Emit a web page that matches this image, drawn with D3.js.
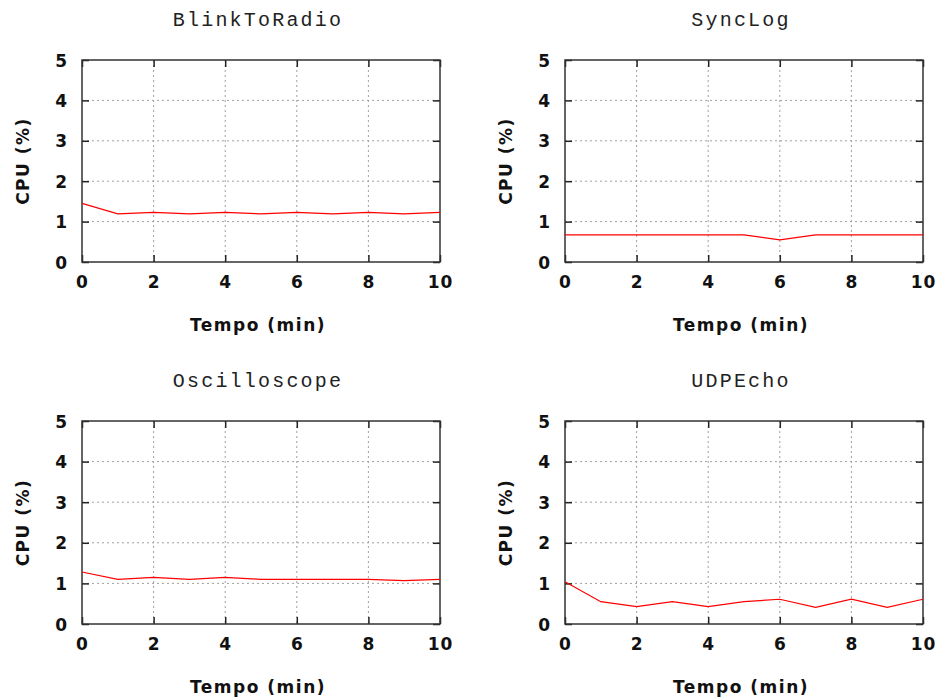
<!DOCTYPE html>
<html><head><meta charset="utf-8">
<script src="https://cdn.jsdelivr.net/npm/d3@7"></script>
<style>body{margin:0;background:#fff}</style>
</head><body>
<svg id="c" width="939" height="699"></svg>
<script>
const minutes = [0,1,2,3,4,5,6,7,8,9,10];
const titles = ["BlinkToRadio","SyncLog","Oscilloscope","UDPEcho"];
const blinkToRadio = [1.45,1.19,1.23,1.19,1.23,1.19,1.23,1.19,1.23,1.19,1.23];
const syncLog      = [0.67,0.67,0.67,0.67,0.67,0.67,0.55,0.67,0.67,0.67,0.67];
const oscilloscope = [1.28,1.10,1.15,1.10,1.15,1.10,1.10,1.10,1.10,1.07,1.10];
const udpEcho      = [1.04,0.55,0.43,0.55,0.43,0.55,0.61,0.41,0.61,0.41,0.61];
const xTicks = [0,2,4,6,8,10];
const yTicks = [0,1,2,3,4,5];
const xLabel = "Tempo (min)";
const yLabel = "CPU (%)";

const series = [blinkToRadio, syncLog, oscilloscope, udpEcho];
const panels = [
  {l:82, r:440, t:60, b:262},
  {l:565, r:923, t:60, b:262},
  {l:82, r:440, t:421, b:624},
  {l:565, r:923, t:421, b:624}
];
const svg = d3.select("#c");
const labFont = "'DejaVu Sans', sans-serif";

panels.forEach((p, i) => {
  const x = d3.scaleLinear().domain([0,10]).range([p.l, p.r]);
  const y = d3.scaleLinear().domain([0,5]).range([p.b, p.t]);
  const g = svg.append("g");

  // grid
  g.selectAll(".gx").data(xTicks.slice(1,-1)).join("line")
    .attr("x1", d=>x(d)).attr("x2", d=>x(d)).attr("y1", p.t).attr("y2", p.b)
    .attr("stroke","#a0a0a0").attr("stroke-width",1).attr("stroke-dasharray","2,3");
  g.selectAll(".gy").data(yTicks.slice(1,-1)).join("line")
    .attr("y1", d=>y(d)).attr("y2", d=>y(d)).attr("x1", p.l).attr("x2", p.r)
    .attr("stroke","#a0a0a0").attr("stroke-width",1).attr("stroke-dasharray","2,3");

  // axes with inward ticks
  const axB = g.append("g").attr("transform",`translate(0,${p.b})`)
    .call(d3.axisBottom(x).tickValues(xTicks).tickSize(-7).tickPadding(14).tickFormat(d3.format("d")));
  const axT = g.append("g").attr("transform",`translate(0,${p.t})`)
    .call(d3.axisTop(x).tickValues(xTicks).tickSize(-7).tickFormat(""));
  const axL = g.append("g").attr("transform",`translate(${p.l},0)`)
    .call(d3.axisLeft(y).tickValues(yTicks).tickSize(-7).tickPadding(15).tickFormat(d3.format("d")));
  const axR = g.append("g").attr("transform",`translate(${p.r},0)`)
    .call(d3.axisRight(y).tickValues(yTicks).tickSize(-7).tickFormat(""));
  [axB,axT,axL,axR].forEach(a => {
    a.select(".domain").remove();
    a.selectAll(".tick line").attr("stroke","#222").attr("stroke-width",1.5);
    a.selectAll("text").attr("font-family",labFont).attr("font-weight","bold")
      .attr("font-size","17px").attr("fill","#111");
  });
  axB.selectAll("text").attr("dy","0.71em").attr("letter-spacing","1px");
  axL.selectAll("text").attr("dy","0.36em");

  // frame
  g.append("rect").attr("x",p.l).attr("y",p.t).attr("width",p.r-p.l).attr("height",p.b-p.t)
    .attr("fill","none").attr("stroke","#333").attr("stroke-width",1.5);

  // data line
  const line = d3.line().x((d,j)=>x(minutes[j])).y(d=>y(d));
  g.append("path").datum(series[i]).attr("d", line)
    .attr("fill","none").attr("stroke","#ff0000").attr("stroke-width",1.2);

  const cx = (p.l+p.r)/2 - 3;
  // title
  g.append("text").attr("x", cx).attr("y", p.t-34).attr("text-anchor","middle")
    .attr("font-family","'Courier New','Liberation Mono',monospace").attr("font-size","20px")
    .attr("letter-spacing","2.2px").attr("fill","#222").text(titles[i]);
  // x label
  g.append("text").attr("x", cx).attr("y", p.b+69).attr("text-anchor","middle")
    .attr("font-family",labFont).attr("font-weight","bold").attr("font-size","17px")
    .attr("letter-spacing","1.5px").attr("fill","#111").text(xLabel);
  // y label
  const ly = (p.t+p.b)/2;
  const lx = p.l - 59;
  g.append("text").attr("transform",`translate(${lx},${ly}) rotate(-90)`)
    .attr("text-anchor","middle").attr("dy","0.36em")
    .attr("font-family",labFont).attr("font-weight","bold").attr("font-size","17px")
    .attr("letter-spacing","1.5px").attr("fill","#111").text(yLabel);
});
</script>
</body></html>
